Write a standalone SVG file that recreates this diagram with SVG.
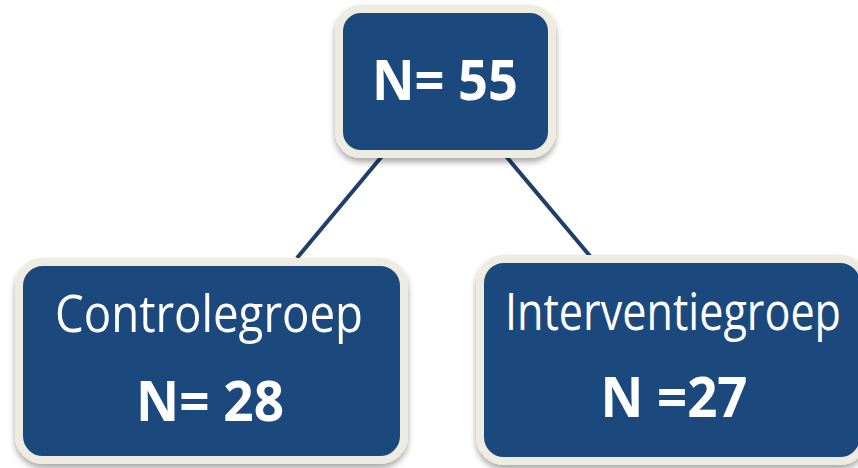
<svg xmlns="http://www.w3.org/2000/svg" width="858" height="468" viewBox="0 0 858 468">
<defs>
<filter id="sh" x="-10%" y="-10%" width="120%" height="130%">
<feGaussianBlur in="SourceAlpha" stdDeviation="3"/>
<feOffset dx="0" dy="4" result="b"/>
<feComponentTransfer><feFuncA type="linear" slope="0.35"/></feComponentTransfer>
<feMerge><feMergeNode/><feMergeNode in="SourceGraphic"/></feMerge>
</filter>
</defs>
<style>
.box{fill:#1F497D;stroke:#EEECE1;stroke-width:8;filter:url(#sh)}
.t{fill:#FFFFFF;font-family:"Open Sans","Liberation Sans",sans-serif;text-anchor:middle}
.b{font-weight:bold;font-size:55px}
.r{font-size:51px}
.c{stroke:#1F3F6B;stroke-width:4;fill:none}
</style>
<rect width="858" height="468" fill="#FFFFFF"/>
<g id="connectors">
<line class="c" x1="383" y1="155" x2="297" y2="258"/>
<line class="c" x1="505" y1="155" x2="590" y2="256"/>
</g>
<g id="root">
<rect class="box" x="339" y="9" width="213" height="145" rx="22"/>
<text class="t b" x="445" y="100" textLength="146" lengthAdjust="spacingAndGlyphs">N= 55</text>
</g>
<g id="control">
<rect class="box" x="19" y="262" width="385" height="198" rx="24"/>
<text class="t r" x="209" y="332" textLength="308" lengthAdjust="spacingAndGlyphs">Controlegroep</text>
<text class="t b" x="210" y="421" textLength="148" lengthAdjust="spacingAndGlyphs">N= 28</text>
</g>
<g id="intervention">
<rect class="box" x="480" y="259" width="384" height="202" rx="24"/>
<text class="t r" x="673" y="330" textLength="336" lengthAdjust="spacingAndGlyphs">Interventiegroep</text>
<text class="t b" x="674" y="417" textLength="147" lengthAdjust="spacingAndGlyphs">N =27</text>
</g>
</svg>
